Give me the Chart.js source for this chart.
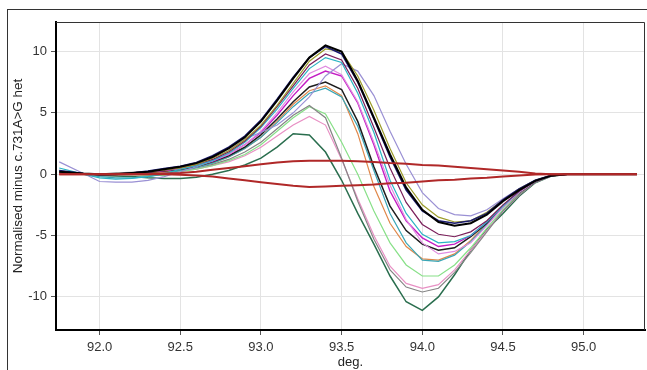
<!DOCTYPE html>
<html>
<head>
<meta charset="utf-8">
<script src="https://cdn.jsdelivr.net/npm/chart.js@4.4.0/dist/chart.umd.min.js"></script>
<style>
  html, body { margin: 0; padding: 0; background: #fff; overflow: hidden; }
  #marco { position: absolute; left: 7px; top: 9px; width: 700px; height: 420px; border: 1px solid #333; box-sizing: border-box; }
  #grafico { position: absolute; left: 0; top: 0; }
</style>
</head>
<body>
<div id="marco"></div>
<canvas id="grafico" width="647" height="370"></canvas>
<script>
// Temperaturas (deg.)
const grados = [91.75, 91.9, 92.0, 92.1, 92.2, 92.3, 92.4, 92.5, 92.6, 92.7, 92.8, 92.9, 93.0, 93.1, 93.2, 93.3, 93.4, 93.5, 93.6, 93.7, 93.8, 93.9, 94.0, 94.1, 94.2, 94.3, 94.4, 94.5, 94.6, 94.7, 94.8, 94.9, 95.0, 95.33]

// Curvas normalizadas menos c.731A>G het
const negro1 = [0.2, 0.05, 0, 0, 0.1, 0.2, 0.4, 0.6, 0.9, 1.4, 2.1, 3.0, 4.3, 6.0, 7.8, 9.5, 10.5, 10.0, 7.6, 4.6, 1.6, -1.1, -2.9, -3.9, -4.2, -4.0, -3.3, -2.2, -1.3, -0.55, -0.12, 0, 0, 0]
const azul = [0.3, 0.05, -0.05, 0, 0.1, 0.25, 0.45, 0.65, 0.95, 1.5, 2.2, 3.1, 4.4, 6.1, 7.9, 9.5, 10.4, 9.8, 7.5, 4.5, 1.4, -1.3, -3.0, -3.8, -4.0, -3.8, -3.2, -2.1, -1.2, -0.5, -0.1, 0, 0, 0]
const oliva = [0.2, 0.05, 0, 0.05, 0.1, 0.2, 0.35, 0.5, 0.8, 1.3, 1.9, 2.8, 4.0, 5.6, 7.4, 9.2, 10.2, 10.0, 8.0, 5.2, 2.1, -0.7, -2.5, -3.5, -3.9, -3.8, -3.1, -2.1, -1.2, -0.5, -0.1, 0, 0, 0]
const granate = [0.15, 0.05, 0, 0, 0.1, 0.2, 0.3, 0.5, 0.8, 1.2, 1.8, 2.7, 3.9, 5.5, 7.2, 8.9, 9.8, 9.3, 7.0, 3.8, 0.5, -2.3, -4.1, -4.9, -5.1, -4.7, -3.8, -2.5, -1.4, -0.55, -0.12, 0, 0, 0]
const cian = [0.5, 0, -0.3, -0.4, -0.35, -0.2, 0.05, 0.4, 0.7, 1.1, 1.7, 2.6, 3.8, 5.3, 7.0, 8.6, 9.5, 9.1, 6.6, 3.4, -0.5, -3.2, -4.9, -5.6, -5.5, -5.0, -3.9, -2.6, -1.4, -0.55, -0.12, 0, 0, 0]
const lavanda = [1.0, 0.05, -0.6, -0.65, -0.65, -0.5, -0.2, 0.2, 0.6, 1.1, 1.9, 2.9, 3.4, 4.0, 5.0, 6.3, 8.0, 9.0, 8.4, 6.4, 3.5, 0.8, -1.5, -2.8, -3.3, -3.4, -2.9, -2.0, -1.2, -0.5, -0.1, 0, 0, 0]
const orquidea = [0.1, 0, 0, 0.05, 0.1, 0.2, 0.3, 0.45, 0.7, 1.1, 1.6, 2.4, 3.5, 5.0, 6.7, 8.2, 8.8, 8.1, 5.9, 2.6, -0.9, -3.7, -5.6, -6.5, -6.3, -5.6, -4.2, -2.7, -1.5, -0.6, -0.12, 0, 0, 0]
const magenta = [0.1, 0, 0, 0, 0.1, 0.2, 0.3, 0.45, 0.7, 1.05, 1.6, 2.4, 3.4, 4.8, 6.4, 7.8, 8.4, 8.0, 5.8, 2.4, -1.4, -3.8, -5.2, -5.9, -5.7, -5.0, -3.9, -2.6, -1.4, -0.55, -0.12, 0, 0, 0]
const negro2 = [0.1, 0, 0, 0, 0.05, 0.15, 0.25, 0.4, 0.65, 1.0, 1.5, 2.2, 3.2, 4.5, 5.9, 7.1, 7.5, 6.9, 4.3, 0.6, -2.6, -4.6, -5.7, -6.2, -6.0, -5.1, -4.0, -2.6, -1.5, -0.6, -0.12, 0, 0, 0]
const turquesa = [0.3, 0, -0.2, -0.3, -0.3, -0.2, 0, 0.3, 0.55, 0.9, 1.4, 2.1, 3.0, 4.2, 5.5, 6.6, 7.0, 6.3, 3.9, 0.3, -3.2, -5.6, -7.0, -7.1, -6.6, -5.5, -4.1, -2.7, -1.5, -0.6, -0.12, 0, 0, 0]
const naranja = [0.15, 0, 0, 0, 0.05, 0.1, 0.2, 0.35, 0.6, 0.9, 1.4, 2.1, 3.0, 4.3, 5.7, 6.8, 7.2, 6.4, 3.3, -1.0, -4.0, -5.9, -6.9, -7.0, -6.5, -5.4, -4.0, -2.7, -1.5, -0.6, -0.12, 0, 0, 0]
const gris = [0.1, 0, 0, 0.1, 0.15, 0.15, 0.2, 0.3, 0.5, 0.8, 1.2, 1.8, 2.6, 3.7, 4.8, 5.6, 4.6, 1.3, -2.2, -5.3, -7.8, -9.2, -9.6, -9.3, -8.0, -6.4, -4.7, -3.0, -1.7, -0.65, -0.15, 0, 0, 0]
const verdeClaro = [0.1, 0, 0, 0, -0.05, -0.1, -0.1, 0.2, 0.4, 0.7, 1.1, 1.6, 2.4, 3.5, 4.6, 5.5, 4.9, 2.6, 0.0, -3.0, -5.6, -7.4, -8.3, -8.3, -7.4, -6.0, -4.4, -2.9, -1.6, -0.6, -0.15, 0, 0, 0]
const rosa = [0.1, 0, 0, 0.05, 0.1, 0.1, 0.15, 0.25, 0.4, 0.7, 1.0, 1.5, 2.2, 3.1, 4.0, 4.7, 4.0, 1.2, -2.0, -5.0, -7.5, -8.9, -9.3, -9.0, -7.8, -6.2, -4.6, -3.0, -1.7, -0.65, -0.15, 0, 0, 0]
const verdeOscuro = [0.1, 0, -0.1, -0.15, -0.2, -0.3, -0.35, -0.35, -0.25, 0, 0.3, 0.75, 1.3, 2.2, 3.3, 3.2, 1.8, -0.5, -3.2, -5.7, -8.3, -10.4, -11.1, -10.0, -8.2, -6.2, -4.5, -3.2, -1.8, -0.7, -0.15, 0, 0, 0]
const rojoArriba = [0, 0, 0, 0, 0, 0, 0.05, 0.1, 0.2, 0.35, 0.5, 0.65, 0.8, 0.95, 1.05, 1.1, 1.1, 1.1, 1.05, 1.0, 0.9, 0.85, 0.75, 0.7, 0.6, 0.5, 0.4, 0.3, 0.2, 0.05, 0, 0, 0, 0]
const rojoAbajo = [0, 0, 0, 0, 0, 0, 0, -0.05, -0.1, -0.2, -0.35, -0.5, -0.65, -0.8, -0.95, -1.05, -1.0, -0.95, -0.9, -0.85, -0.75, -0.7, -0.6, -0.5, -0.45, -0.35, -0.3, -0.2, -0.1, -0.02, 0, 0, 0, 0]

// Ticks
const ticksX = [92.0, 92.5, 93.0, 93.5, 94.0, 94.5, 95.0]
const ticksY = [-10, -5, 0, 5, 10]

// orden: el primero queda encima
const series = [
  { datos: rojoArriba, color: '#b02828', ancho: 2 },
  { datos: rojoAbajo, color: '#b02828', ancho: 2 },
  { datos: negro1, color: '#000000', ancho: 2 },
  { datos: azul, color: '#1a1a6e', ancho: 1.6 },
  { datos: oliva, color: '#9c9c2a', ancho: 1.2 },
  { datos: granate, color: '#7a1e5a', ancho: 1.2 },
  { datos: cian, color: '#2ab4c4', ancho: 1.2 },
  { datos: lavanda, color: '#9a90d4', ancho: 1.2 },
  { datos: orquidea, color: '#e08ce0', ancho: 1.2 },
  { datos: magenta, color: '#c41cc4', ancho: 1.4 },
  { datos: negro2, color: '#1e1e1e', ancho: 1.5 },
  { datos: turquesa, color: '#3aa6b6', ancho: 1.2 },
  { datos: naranja, color: '#e0884a', ancho: 1.2 },
  { datos: gris, color: '#858585', ancho: 1.2 },
  { datos: verdeClaro, color: '#88e088', ancho: 1.2 },
  { datos: rosa, color: '#e890c4', ancho: 1.2 },
  { datos: verdeOscuro, color: '#2a6e4e', ancho: 1.5 }
]

// marco fino arriba y a la derecha
const marco = {
  id: 'marco',
  afterDraw(chart) {
    const { ctx, chartArea } = chart
    ctx.save()
    ctx.strokeStyle = '#333'
    ctx.lineWidth = 1
    ctx.beginPath()
    ctx.moveTo(chartArea.left, chartArea.top + 0.5)
    ctx.lineTo(chartArea.right - 0.5, chartArea.top + 0.5)
    ctx.lineTo(chartArea.right - 0.5, chartArea.bottom)
    ctx.stroke()
    ctx.restore()
  }
}

const fuente = { family: 'Arial, "Liberation Sans", sans-serif', size: 13 }
const fuenteTitulo = { family: 'Arial, "Liberation Sans", sans-serif', size: 13.5 }

const ctx = document.getElementById('grafico').getContext('2d')
const chart = new Chart(ctx, {
  type: 'line',
  data: {
    datasets: series.map(s => ({
      data: grados.map((g, i) => ({ x: g, y: s.datos[i] })),
      borderColor: s.color,
      borderWidth: s.ancho,
      pointRadius: 0,
      tension: 0,
      fill: false
    }))
  },
  options: {
    responsive: false,
    animation: false,
    devicePixelRatio: 1,
    layout: { padding: { top: 22, right: 2, left: 0, bottom: 0 } },
    plugins: { legend: { display: false }, tooltip: { enabled: false } },
    scales: {
      x: {
        type: 'linear',
        min: 91.73,
        max: 95.38,
        afterBuildTicks: s => { s.ticks = ticksX.map(v => ({ value: v })) },
        afterFit: s => { s.height = 40 },
        ticks: { callback: v => v.toFixed(1), font: fuente, color: '#333', padding: 5, maxRotation: 0, autoSkip: false },
        grid: { color: '#e3e3e3', tickColor: '#555', tickLength: 5 },
        border: { color: '#000', width: 2 },
        title: { display: true, text: 'deg.', font: fuente, color: '#222', padding: 0 }
      },
      y: {
        min: -12.7,
        max: 12.4,
        afterBuildTicks: s => { s.ticks = ticksY.map(v => ({ value: v })) },
        afterFit: s => { s.width = 56 },
        ticks: { font: fuente, color: '#333', padding: 4 },
        grid: { color: '#e3e3e3', tickColor: '#555', tickLength: 5 },
        border: { color: '#000', width: 2 },
        title: { display: true, text: 'Normalised minus c.731A>G het', font: fuenteTitulo, color: '#222', padding: { top: 10, bottom: 0 } }
      }
    }
  },
  plugins: [marco]
})
</script>
</body>
</html>
